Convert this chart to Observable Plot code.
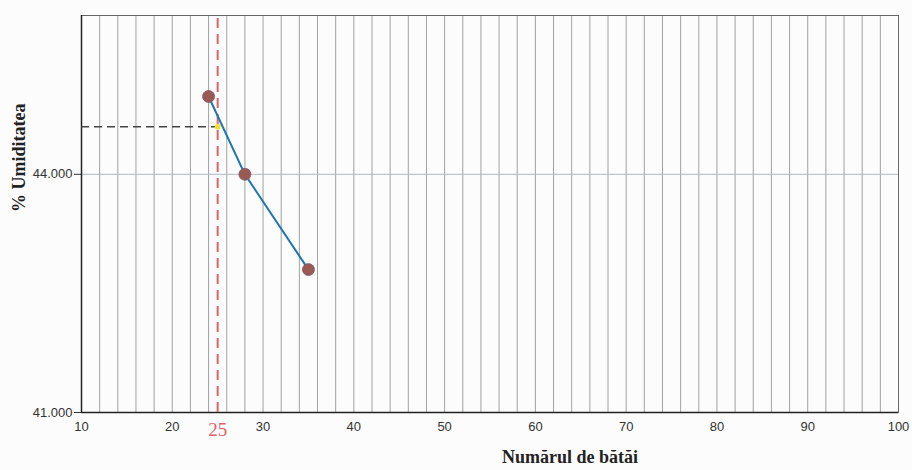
<!DOCTYPE html>
<html>
<head>
<meta charset="utf-8">
<script src="https://cdn.jsdelivr.net/npm/d3@7"></script>
<script src="https://cdn.jsdelivr.net/npm/@observablehq/plot@0.6"></script>
<style>
  html, body { margin: 0; padding: 0; background: #fcfcfc; }
  #chart svg { display: block; }
</style>
</head>
<body>
<div id="chart"></div>
<script>
// Data
const beats = [24, 28, 35];
const moisture = [44.98, 44.0, 42.8];
const xTicks = [10, 20, 30, 40, 50, 60, 70, 80, 90, 100];
const yTicks = [41, 44];
const xGrid = d3.range(12, 100, 2);
const yGrid = [44];
const refBeats = 25;
const liquidLimit = 44.6;

const points = beats.map((b, i) => ({beats: b, w: moisture[i]}));
const serif = "'Liberation Serif', 'DejaVu Serif', serif";

const chart = Plot.plot({
  width: 912,
  height: 470,
  marginLeft: 81,
  marginRight: 14,
  marginTop: 15,
  marginBottom: 58,
  style: {background: "#fcfcfc", fontFamily: "'Liberation Sans', Arial, sans-serif", fontSize: "13px", color: "#333"},
  x: {domain: [10, 100]},
  y: {domain: [41, 46]},
  marks: [
    Plot.ruleX(xGrid, {stroke: "#8a8a8a", strokeWidth: 0.8}),
    Plot.ruleY(yGrid, {stroke: "#b0b8c8", strokeWidth: 1}),
    Plot.frame({stroke: "#666", strokeWidth: 1}),
    Plot.ruleY([41], {stroke: "#222", strokeWidth: 1.5}),
    Plot.ruleX([10], {stroke: "#222", strokeWidth: 1.5}),
    Plot.axisX({ticks: xTicks, tickSize: 0, tickPadding: 9, label: null, fontSize: 13, tickFormat: d3.format("d")}),
    Plot.axisY({ticks: yTicks, tickSize: 7, tickPadding: 2, label: null, fontSize: 13, tickFormat: d3.format(".3f")}),
    // reference dashed lines
    Plot.ruleX([refBeats], {y1: 41, y2: 46, stroke: "#e0606e", strokeWidth: 2, strokeDasharray: "10,6"}),
    Plot.ruleY([liquidLimit], {x1: 10, x2: refBeats, stroke: "#444", strokeWidth: 1.5, strokeDasharray: "8,5"}),
    // flow curve
    Plot.line(points, {x: "beats", y: "w", stroke: "#1b76ad", strokeWidth: 2}),
    Plot.dot(points, {x: "beats", y: "w", r: 6, fill: "#9a5a52", stroke: "#7a5a70", strokeWidth: 0.8}),
    Plot.dot([{beats: refBeats, w: liquidLimit}], {x: "beats", y: "w", r: 3, fill: "#efe03a"}),
    // red "25" label
    Plot.text([refBeats], {x: d => d, y: 41, dy: 17, text: d => String(d), fill: "#e0606e", fontSize: 19, fontFamily: serif, clip: false}),
    // axis titles
    Plot.text(["% Umiditatea"], {frameAnchor: "left", dx: -62, dy: -2, rotate: -90, fontSize: 18, fontWeight: "bold", fill: "#222", fontFamily: serif}),
    Plot.text(["Numărul de bătăi"], {frameAnchor: "bottom", dx: 80, dy: 50, fontSize: 18, fontWeight: "bold", fill: "#222", fontFamily: serif})
  ]
});
document.getElementById("chart").appendChild(chart);
</script>
</body>
</html>
